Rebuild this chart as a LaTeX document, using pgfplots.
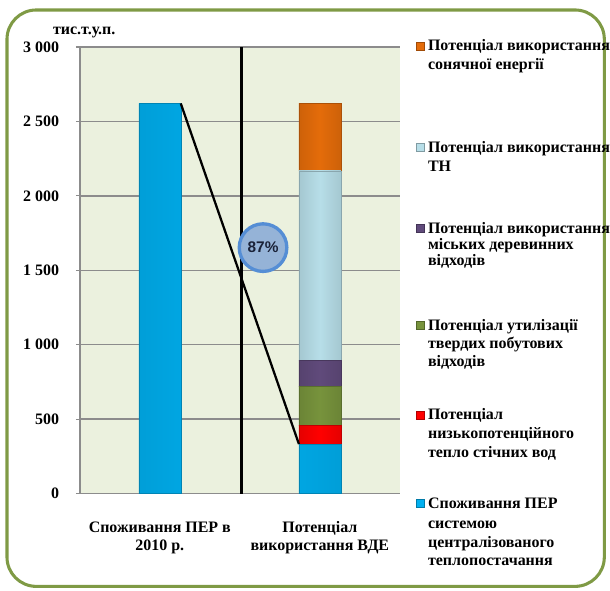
\documentclass[border=0pt]{standalone}
\usepackage{pgfplots}
\pgfplotsset{compat=1.18}
\usepackage{fontspec}
\setmainfont{Liberation Serif}
\newfontfamily\labelsans{Liberation Sans}

\definecolor{frameolive}{HTML}{7F9A45}
\definecolor{plotbg}{HTML}{EBF1DE}
\definecolor{gridgray}{HTML}{8C8C8C}
\definecolor{perblue}{HTML}{00B0F0}
\definecolor{wastered}{HTML}{FF0000}
\definecolor{tpvgreen}{HTML}{77933C}
\definecolor{woodpurple}{HTML}{604A7B}
\definecolor{hpblue}{HTML}{B7DEE8}
\definecolor{solarorange}{HTML}{E46C0A}
\definecolor{circfill}{HTML}{95B3D7}
\definecolor{circedge}{HTML}{558ED5}
\definecolor{pctnavy}{HTML}{1A2238}

\pgfplotsset{
  bevel/.style={draw=#1!75!black, line width=0.4pt,
    left color=#1!90!black, right color=#1!90!black, middle color=#1},
}

\newcommand\lgfont{\fontsize{12}{14}\selectfont\bfseries}

\begin{document}
\begin{tikzpicture}
% page frame, legend and unit label, in pixel units (y downwards)
\begin{scope}[x=0.75pt,y=-0.75pt]
  \path (0,0) rectangle (610,592);
  \draw[frameolive, line width=2.3pt, rounded corners=22pt] (7,10) rectangle (606,588);
  \node[anchor=base west, inner sep=0, font=\lgfont] at (53,35) {тис.т.у.п.};

  % legend: swatch at the first line, then one node per text line
  \newcommand\swatch[2]{%
    \fill[#1] (417,#2-9) rectangle ++(8,8);
    \draw[#1!70!black, line width=0.3pt] (417,#2-9) rectangle ++(8,8);}
  \newcommand\lgline[2]{%
    \node[anchor=base west, inner sep=0, font=\lgfont] at (429,#1) {#2};}

  \swatch{solarorange}{51}
  \lgline{51}{Потенціал використання}
  \lgline{69.5}{сонячної енергії}

  \swatch{hpblue}{153}
  \lgline{153}{Потенціал використання}
  \lgline{171.5}{ТН}

  \swatch{woodpurple}{234}
  \lgline{234}{Потенціал використання}
  \lgline{250}{міських деревинних}
  \lgline{266}{відходів}

  \swatch{tpvgreen}{331}
  \lgline{331}{Потенціал утилізації}
  \lgline{349.5}{твердих побутових}
  \lgline{368}{відходів}

  \swatch{wastered}{421}
  \lgline{421}{Потенціал}
  \lgline{440}{низькопотенційного}
  \lgline{459}{тепло стічних вод}

  \swatch{perblue}{510}
  \lgline{510}{Споживання ПЕР}
  \lgline{529.5}{системою}
  \lgline{549}{централізованого}
  \lgline{567.5}{теплопостачання}
\end{scope}

% stacked bars
\begin{axis}[
  at={(60pt,-371.25pt)}, anchor=south west,
  width=240.75pt, height=336pt, scale only axis,
  xmin=-0.5, xmax=1.5, ymin=0, ymax=3000,
  ybar stacked, bar width=0.262,
  axis background/.style={fill=plotbg},
  axis x line*=bottom, axis y line*=left,
  axis line style={gridgray, line width=1.1pt},
  ymajorgrids, grid style={gridgray, line width=1.1pt},
  ytick={0,500,...,3000},
  xtick={0,1},
  xticklabels={Споживання ПЕР в\\2010 р., Потенціал\\використання ВДЕ},
  tick align=outside, major tick length=3pt,
  xtick style={draw=none},
  ytick style={gridgray, line width=1pt},
  yticklabel style={font=\lgfont, xshift=-9pt},
  xticklabel style={font=\lgfont, align=center, anchor=base, yshift=-40pt},
  /pgf/number format/assume math mode=true,
  /pgf/number format/1000 sep={\ },
]
\addplot[bevel=perblue] coordinates {(0,2620) (1,333)};
\addplot[bevel=wastered] coordinates {(0,0) (1,127)};
\addplot[bevel=tpvgreen] coordinates {(0,0) (1,260)};
\addplot[bevel=woodpurple] coordinates {(0,0) (1,173)};
\addplot[bevel=hpblue] coordinates {(0,0) (1,1274)};
\addplot[bevel=solarorange] coordinates {(0,0) (1,453)};
\end{axis}

% divider, share line and percentage badge
\begin{axis}[
  at={(60pt,-371.25pt)}, anchor=south west,
  width=240.75pt, height=336pt, scale only axis,
  xmin=-0.5, xmax=1.5, ymin=0, ymax=3000,
  hide axis, clip=false,
]
\addplot[black, line width=2pt] coordinates {(0.51,0) (0.51,3000)};
\addplot[black, line width=1.7pt] coordinates {(0.131,2620) (0.869,333)};
\addplot[only marks, mark=*, mark size=17.9pt,
  mark options={fill=circfill, draw=circedge, line width=2.5pt}]
  coordinates {(0.645,1652)};
\coordinate (badge) at (axis cs:0.645,1652);
\end{axis}
\node[font=\labelsans\fontsize{11.6}{13}\selectfont\bfseries, text=pctnavy]
  at (badge) {87\%};
\end{tikzpicture}
\end{document}
